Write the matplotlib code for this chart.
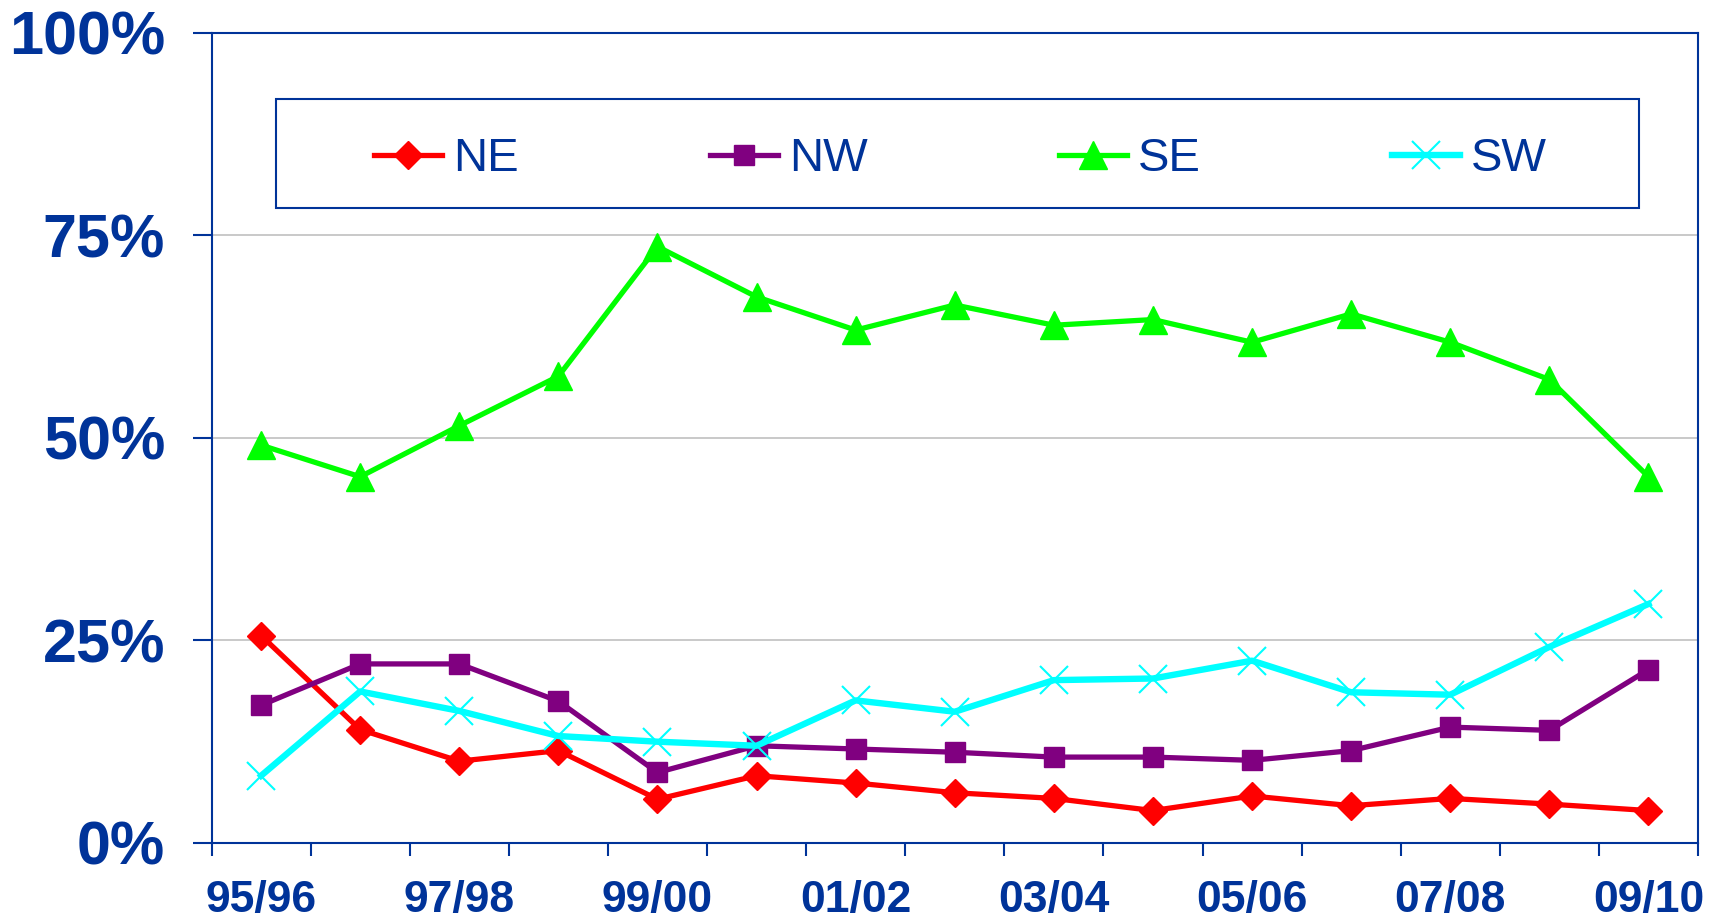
import numpy as np
import matplotlib.pyplot as plt
from matplotlib.patches import Rectangle

plt.rcParams['font.family'] = ['Liberation Sans', 'DejaVu Sans']

seasons = ['95/96', '96/97', '97/98', '98/99', '99/00', '00/01', '01/02', '02/03',
           '03/04', '04/05', '05/06', '06/07', '07/08', '08/09', '09/10']
ne = [25.6, 14.0, 10.1, 11.4, 5.4, 8.3, 7.4, 6.2, 5.5, 4.0, 5.8, 4.6, 5.5, 4.8, 4.0]
nw = [17.0, 22.1, 22.1, 17.5, 8.7, 12.0, 11.6, 11.2, 10.6, 10.6, 10.2, 11.4, 14.3, 13.9, 21.4]
se = [49.1, 45.2, 51.5, 57.6, 73.6, 67.4, 63.3, 66.4, 63.9, 64.6, 61.8, 65.3, 61.8, 57.2, 45.2]
sw = [8.3, 18.7, 16.3, 13.2, 12.5, 12.0, 17.6, 16.2, 20.1, 20.3, 22.5, 18.6, 18.3, 24.2, 29.5]
y_ticks = [0, 25, 50, 75, 100]

blue = '#003399'
x = np.arange(len(seasons))

fig = plt.figure(figsize=(17.1, 9.22), dpi=100)
ax = fig.add_axes([0.1237, 0.0857, 0.993 - 0.1237, 0.9645 - 0.0857])

ax.plot(x, ne, color='#FF0000', lw=3.8, marker='D', ms=14, label='NE', zorder=3)
ax.plot(x, nw, color='#800080', lw=3.8, marker='s', ms=15, label='NW', zorder=3)
ax.plot(x, se, color='#00FF00', lw=3.8, marker='^', ms=20, label='SE', zorder=3)
ax.plot(x, sw, color='#00FFFF', lw=4.6, marker='x', ms=20, mew=1.5, label='SW', zorder=3)

ax.set_xlim(-0.5, len(seasons) - 0.5)
ax.set_ylim(0, 100)

# y axis
ax.set_yticks(y_ticks)
ax.set_yticklabels(['%d%%' % v for v in y_ticks])
ax.tick_params(axis='y', direction='out', length=13.5, width=1.5, color=blue,
               pad=20, labelsize=44, labelcolor=blue)
for lab in ax.get_yticklabels():
    lab.set_fontweight('bold')
ax.grid(axis='y', color='#C0C0C0', lw=1.2)
ax.set_axisbelow(True)

# x axis: tick marks between categories, labels on every other one
ax.set_xticks(np.arange(-0.5, len(seasons)))
ax.set_xticklabels([])
ax.tick_params(axis='x', which='major', direction='out', length=9, width=1.5, color=blue)
ax.set_xticks(x[::2], minor=True)
ax.set_xticklabels(seasons[::2], minor=True)
ax.tick_params(axis='x', which='minor', length=0, pad=27, labelsize=32, labelcolor=blue)
for lab in ax.get_xticklabels(minor=True):
    lab.set_fontweight('bold')

for s in ax.spines.values():
    s.set_color(blue)
    s.set_linewidth(1.5)

# legend frame
ax.add_patch(Rectangle((0.0433, 0.784), 0.917, 0.134, transform=ax.transAxes,
                       facecolor='white', edgecolor=blue, lw=1.5, zorder=4))
leg = ax.legend(loc='center', bbox_to_anchor=(0.1093, 0.795, 0.789, 0.098),
                mode='expand', ncol=4, frameon=False, fontsize=34, borderpad=0,
                handlelength=1.45, handletextpad=0.22, borderaxespad=0)
leg.set_zorder(5)
for t in leg.get_texts():
    t.set_color(blue)

fig.savefig('out.png', dpi=100)
